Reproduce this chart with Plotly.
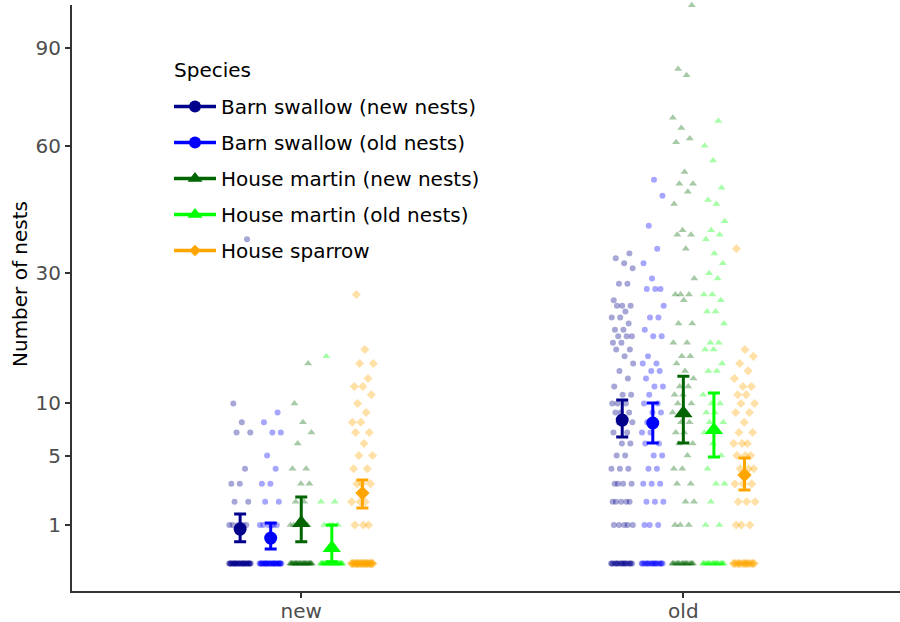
import numpy as np
import plotly.graph_objects as go

# ---------------- data ----------------
CATEGORIES = ["new", "old"]
SPECIES = ["Barn swallow (new nests)", "Barn swallow (old nests)",
           "House martin (new nests)", "House martin (old nests)", "House sparrow"]
COLORS = ["#00008B", "#0000FF", "#006400", "#00FF00", "#FFA500"]
SYMBOLS = ["circle", "circle", "triangle-up", "triangle-up", "diamond"]

Y_TICKS = [1, 5, 10, 30, 60, 90]

# model means and confidence limits (number of nests)
MEAN_NEW = [0.86, 0.59, 1.07, 0.35, 2.46]
LOW_NEW = [0.49, 0.33, 0.49, 0.12, 1.70]
HIGH_NEW = [1.43, 1.07, 2.24, 1.00, 3.24]
MEAN_OLD = [8.22, 7.92, 8.94, 7.24, 3.57]
LOW_OLD = [6.58, 6.05, 6.05, 4.89, 2.63]
HIGH_OLD = [10.4, 10.05, 13.3, 11.2, 4.80]

# raw observations: values and how many times each occurs
# --- "new" category ---
BSN_NEW_VALS = [0, 1, 2, 3, 4, 7, 8, 10, 37]
BSN_NEW_CNTS = [30, 6, 2, 2, 1, 2, 1, 1, 1]
BSO_NEW_VALS = [0, 1, 2, 3, 4, 5, 7, 8, 9]
BSO_NEW_CNTS = [30, 6, 2, 2, 1, 1, 2, 1, 1]
HMN_NEW_VALS = [0, 1, 2, 3, 4, 6, 7, 8, 10, 15]
HMN_NEW_CNTS = [30, 5, 2, 2, 2, 1, 1, 1, 1, 1]
HMO_NEW_VALS = [0, 1, 2, 16]
HMO_NEW_CNTS = [30, 4, 2, 1]
HS_NEW_VALS = [0, 1, 2, 3, 4, 5, 6, 7, 8, 9, 10, 11, 12, 13, 15, 17, 26]
HS_NEW_CNTS = [30, 3, 3, 3, 2, 2, 1, 2, 2, 1, 1, 1, 2, 1, 2, 1, 1]
# --- "old" category ---
BSN_OLD_VALS = [0, 1, 2, 3, 4, 5, 6, 7, 8, 9, 10, 11, 12, 13, 14, 15, 16, 17, 18, 19,
                20, 21, 22, 23, 24, 25, 28, 31, 32, 33, 34]
BSN_OLD_CNTS = [18, 5, 5, 4, 3, 2, 2, 2, 3, 3, 3, 2, 1, 1, 1, 1, 1, 2, 2, 3,
                2, 1, 2, 1, 3, 1, 2, 1, 1, 1, 1]
BSO_OLD_VALS = [0, 1, 2, 3, 4, 5, 6, 7, 8, 9, 10, 11, 12, 13, 14, 15, 16, 19, 20, 22,
                24, 27, 29, 32, 35, 40, 47, 51]
BSO_OLD_CNTS = [18, 3, 3, 3, 2, 2, 2, 2, 2, 2, 2, 1, 2, 1, 2, 2, 1, 2, 1, 2,
                1, 3, 1, 1, 1, 1, 1, 1]
HMN_OLD_VALS = [0, 1, 2, 3, 4, 5, 6, 7, 8, 9, 10, 11, 12, 13, 14, 15, 16, 18, 21, 25,
                26, 29, 35, 38, 39, 45, 48, 50, 53, 61, 62, 65, 68, 81, 83, 105]
HMN_OLD_CNTS = [18, 3, 2, 2, 2, 1, 2, 2, 2, 2, 2, 2, 2, 1, 1, 1, 2, 2, 2, 1,
                3, 1, 1, 2, 1, 1, 1, 2, 1, 1, 1, 1, 1, 1, 1, 1]
HMO_OLD_VALS = [0, 1, 2, 3, 4, 5, 6, 7, 8, 9, 10, 11, 14, 15, 17, 18, 21, 23, 25, 26,
                29, 30, 32, 34, 37, 38, 39, 41, 45, 46, 49, 56, 60, 67]
HMO_OLD_CNTS = [18, 2, 1, 2, 1, 1, 1, 2, 2, 2, 2, 1, 2, 1, 2, 2, 1, 2, 1, 2,
                1, 1, 1, 1, 1, 1, 1, 1, 1, 1, 1, 1, 1, 1]
HS_OLD_VALS = [0, 1, 2, 3, 4, 5, 6, 7, 8, 9, 10, 11, 12, 13, 14, 15, 16, 17, 35]
HS_OLD_CNTS = [18, 3, 3, 3, 3, 3, 3, 2, 1, 2, 2, 2, 2, 1, 1, 1, 1, 1, 1]

RAW = {
    "new": [(BSN_NEW_VALS, BSN_NEW_CNTS), (BSO_NEW_VALS, BSO_NEW_CNTS),
            (HMN_NEW_VALS, HMN_NEW_CNTS), (HMO_NEW_VALS, HMO_NEW_CNTS),
            (HS_NEW_VALS, HS_NEW_CNTS)],
    "old": [(BSN_OLD_VALS, BSN_OLD_CNTS), (BSO_OLD_VALS, BSO_OLD_CNTS),
            (HMN_OLD_VALS, HMN_OLD_CNTS), (HMO_OLD_VALS, HMO_OLD_CNTS),
            (HS_OLD_VALS, HS_OLD_CNTS)],
}

# ---------------- presentation ----------------
DODGE = [-0.16, -0.08, 0.0, 0.08, 0.16]
JIT = 0.029
ZERO_FLOOR = 0.1   # zero counts drawn just above the axis floor on the sqrt scale
ML, MR, MT, MB = 72, 0, 5, 31
W, H = 900, 622
PW, PH = W - ML - MR, H - MT - MB


def tr(v):
    return np.sqrt(np.maximum(np.asarray(v, dtype=float), ZERO_FLOOR))


def rgba(hexc, a):
    h = hexc.lstrip("#")
    return "rgba(%d,%d,%d,%s)" % (int(h[0:2], 16), int(h[2:4], 16), int(h[4:6], 16), a)


def px_x(p):
    return (p - ML) / PW


def px_y(p):
    return (H - MB - p) / PH


fig = go.Figure()
FONT = "DejaVu Sans"

# raw points
for ci, cat in enumerate(CATEGORIES):
    for si in range(5):
        vals, cnts = RAW[cat][si]
        expanded = np.repeat(vals, cnts)
        idx = np.arange(len(expanded))
        jitter = ((idx * 0.6180339887) % 1.0 - 0.5) * 2 * JIT
        xs = ci + 1 + DODGE[si] + jitter
        fig.add_trace(go.Scatter(
            x=xs, y=tr(expanded), mode="markers", showlegend=False, hoverinfo="skip",
            cliponaxis=False,
            marker=dict(symbol=SYMBOLS[si], size=6 if si < 2 else 7,
                        color=rgba(COLORS[si], 0.35), line=dict(width=0)),
        ))

# means with confidence intervals
for si in range(5):
    m = [MEAN_NEW[si], MEAN_OLD[si]]
    lo = [LOW_NEW[si], LOW_OLD[si]]
    hi = [HIGH_NEW[si], HIGH_OLD[si]]
    xs = [1 + DODGE[si], 2 + DODGE[si]]
    ym = tr(m)
    fig.add_trace(go.Scatter(
        x=xs, y=ym, mode="markers", showlegend=False,
        marker=dict(symbol=SYMBOLS[si], size=[13, 13, 16, 16, 11][si], color=COLORS[si]),
        error_y=dict(type="data", symmetric=False, array=tr(hi) - ym,
                     arrayminus=ym - tr(lo), color=COLORS[si], thickness=3, width=6),
    ))

# legend keys
for si in range(5):
    fig.add_trace(go.Scatter(
        x=[None], y=[None], mode="lines+markers", name=SPECIES[si],
        legendgroup="g%d" % si,
        line=dict(color=COLORS[si], width=3.5),
        marker=dict(symbol=SYMBOLS[si], size=[12, 12, 13, 13, 9][si], color=COLORS[si]),
    ))

fig.update_layout(
    width=W, height=H,
    margin=dict(l=ML, r=MR, t=MT, b=MB, autoexpand=False),
    plot_bgcolor="white", paper_bgcolor="white",
    font=dict(family=FONT, size=20, color="black"),
    xaxis=dict(range=[0.4, 2.567], tickvals=[1, 2], ticktext=CATEGORIES,
               showline=True, linecolor="#333333", linewidth=2, mirror=False,
               ticks="outside", ticklen=5, tickwidth=1.5, tickcolor="#333333",
               showgrid=False, zeroline=False, automargin=False, ticklabelstandoff=-4,
               tickfont=dict(family=FONT, size=20, color="#4d4d4d")),
    yaxis=dict(range=[-0.174, 10.25], tickvals=tr(Y_TICKS), ticktext=[str(t) for t in Y_TICKS],
               showline=True, linecolor="#333333", linewidth=2,
               ticks="outside", ticklen=5, tickwidth=1.5, tickcolor="#333333",
               showgrid=False, zeroline=False, automargin=False,
               tickfont=dict(family=FONT, size=20, color="#4d4d4d")),
    legend=dict(x=px_x(169), y=px_y(87), xanchor="left", yanchor="top",
                bgcolor="rgba(0,0,0,0)", tracegroupgap=7, itemwidth=42,
                font=dict(family=FONT, size=20, color="black")),
    annotations=[
        dict(text="Number of nests", xref="paper", yref="paper", x=px_x(20), y=px_y(284),
             xanchor="center", yanchor="middle", textangle=-90, showarrow=False,
             font=dict(family=FONT, size=20, color="black")),
        dict(text="Species", xref="paper", yref="paper", x=px_x(172), y=px_y(70),
             xanchor="left", yanchor="middle", showarrow=False,
             font=dict(family=FONT, size=20, color="black")),
    ],
)

fig.write_html("out.html", config={"displayModeBar": False},
               post_script="document.body.style.margin='0';")
